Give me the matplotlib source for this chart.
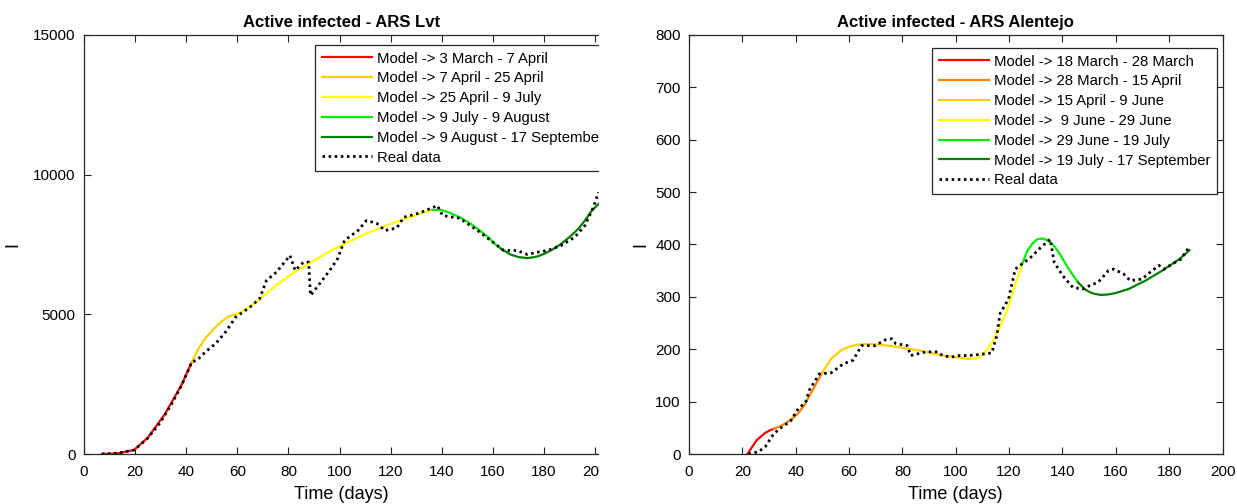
import matplotlib
matplotlib.use("Agg")
import matplotlib.pyplot as plt
from matplotlib.patches import Rectangle

plt.rcParams['font.family'] = ['Liberation Sans', 'DejaVu Sans']

# ---------------- Left panel: ARS Lvt ----------------
lvt_t_red = [7.0, 13.0, 19.6, 24.9, 31.6, 38.2, 42.2]
lvt_y_red = [0, 20, 143, 580, 1420, 2480, 3298]
lvt_t_gold = [42.2, 44.8, 48.0, 51.5, 54.0, 56.8, 60.1]
lvt_y_gold = [3298, 3774, 4200, 4548, 4760, 4929, 5024]
lvt_t_yellow = [60.1, 64.7, 70.0, 76.0, 83.3, 91.2, 97.0, 103.2, 109.0, 115.1, 120.0, 125.7, 131.0, 136.3]
lvt_y_yellow = [5024, 5262, 5643, 6100, 6571, 6988, 7300, 7583, 7840, 8060, 8240, 8417, 8590, 8738]
lvt_t_green = [136.3, 139.7, 143.0, 147.0, 151.0, 154.9, 158.5, 161.5, 163.0]
lvt_y_green = [8738, 8738, 8640, 8476, 8260, 8000, 7730, 7464, 7360]
lvt_t_dgreen = [163.0, 166.8, 170.0, 173.5, 177.0, 180.1, 183.5, 186.7, 190.0, 193.4, 196.0, 198.7, 202.0]
lvt_y_dgreen = [7360, 7143, 7050, 7012, 7060, 7167, 7330, 7524, 7770, 8060, 8360, 8714, 9012]

lvt_t_real = [7.0, 13.0, 19.6, 24.9, 29.8, 34.2, 38.2, 42.2, 44.2, 47.5, 51.5, 55.4, 59.4,
              64.7, 68.7, 71.4, 75.3, 80.6, 82.6, 85.9, 87.9, 88.6, 91.2, 96.6, 99.2, 101.9,
              107.2, 110.5, 114.5, 117.8, 122.4, 125.1, 131.0, 138.3, 140.3, 147.0, 154.9,
              164.2, 169.5, 173.5, 177.5, 181.4, 186.7, 192.0, 196.0, 199.3, 201.3]
lvt_y_real = [0, 24, 143, 560, 1120, 1780, 2460, 3298, 3357, 3655, 3952, 4369, 4905,
              5238, 5560, 6214, 6512, 7107, 6571, 6869, 6869, 5679, 5976, 6631, 6988, 7643,
              8000, 8357, 8262, 8000, 8095, 8476, 8619, 8893, 8536, 8440, 7940,
              7286, 7286, 7143, 7226, 7286, 7464, 7762, 8179, 8833, 9369]

lvt_labels = ["Model -> 3 March - 7 April", "Model -> 7 April - 25 April",
              "Model -> 25 April - 9 July", "Model -> 9 July - 9 August",
              "Model -> 9 August - 17 September"]

# ---------------- Right panel: ARS Alentejo ----------------
alt_t_red = [21.9, 25.4, 28.5, 30.5, 31.8]
alt_y_red = [0, 26.6, 40, 45.7, 48]
alt_t_orange = [31.8, 35.0, 38.1, 41.0, 43.2, 47.0, 50.1]
alt_y_orange = [48, 55, 64.7, 78, 93.2, 128, 156.6]
alt_t_gold = [50.1, 53.3, 57.1, 60.0, 63.4, 67.0, 71.0, 76.0, 82.4, 88.0, 95.1, 101.4, 104.0, 105.9]
alt_y_gold = [156.6, 182, 198, 205, 209, 210, 209, 206, 201, 196, 188, 184, 182, 182]
alt_t_yellow = [105.9, 107.5, 109.0, 111.5, 114.1, 116.5, 119.2, 122.0, 124.9]
alt_y_yellow = [182, 182, 185, 198, 217, 242, 274, 318, 363]
alt_t_green = [124.9, 126.8, 128.8, 130.6, 132.5, 134.0, 135.6, 137.5, 139.4, 141.3, 143.2, 145.8]
alt_y_green = [363, 388, 402, 410, 411.5, 409, 404, 393, 378.6, 362, 347, 328]
alt_t_dgreen = [145.8, 148.3, 150.2, 152.1, 154.6, 157.0, 159.7, 164.8, 171.1, 177.4, 183.8, 187.6]
alt_y_dgreen = [328, 315, 309, 305.6, 303.7, 304.5, 307, 315, 331, 350, 372, 389]

alt_t_real = [22.3, 26.1, 28.6, 31.8, 35.0, 38.1, 40.6, 43.8, 45.1, 48.9, 53.3, 57.8, 61.5,
              64.7, 69.8, 73.6, 76.1, 77.4, 81.8, 83.1, 88.8, 93.2, 95.1, 98.3, 101.4, 104.6,
              109.0, 113.5, 115.4, 116.6, 119.8, 122.3, 124.9, 128.0, 131.8, 135.4, 136.9,
              140.1, 143.9, 147.7, 150.2, 153.4, 157.2, 159.1, 162.9, 165.4, 169.8, 173.6,
              176.2, 178.1, 181.2, 184.4, 187.6]
alt_y_real = [0, 4.4, 14, 39, 52, 63, 84, 100, 122, 153, 155, 172, 179,
              207, 207, 218, 220, 211, 207, 188, 195, 195, 188, 185, 188, 188,
              190, 193, 226, 268, 296, 353, 363, 375, 394, 410, 366,
              340.5, 318, 315, 321.5, 328, 350, 353, 344, 331, 334, 350,
              360, 353, 363, 372, 396]

alt_labels = ["Model -> 18 March - 28 March", "Model -> 28 March - 15 April",
              "Model -> 15 April - 9 June", "Model ->  9 June - 29 June",
              "Model -> 29 June - 19 July", "Model -> 19 July - 17 September"]

C_RED = '#ff0000'
C_ORANGE = '#ff8000'
C_GOLD = '#ffd000'
C_YELLOW = '#ffff00'
C_GREEN = '#00ee00'
C_DGREEN = '#008000'

W, H = 1237, 504
fig = plt.figure(figsize=(W / 100, H / 100), dpi=100)

ax1 = fig.add_axes([84 / W, 50 / H, 515 / W, 419 / H])
ax2 = fig.add_axes([689 / W, 50 / H, 533.5 / W, 419 / H])

LW = 1.6
DOT = dict(color='black', lw=2.0, linestyle=(0, (0.9, 1.3)))

ax1.plot(lvt_t_red, lvt_y_red, color=C_RED, lw=LW, label=lvt_labels[0])
ax1.plot(lvt_t_gold, lvt_y_gold, color=C_GOLD, lw=LW, label=lvt_labels[1])
ax1.plot(lvt_t_yellow, lvt_y_yellow, color=C_YELLOW, lw=LW, label=lvt_labels[2])
ax1.plot(lvt_t_green, lvt_y_green, color=C_GREEN, lw=LW, label=lvt_labels[3])
ax1.plot(lvt_t_dgreen, lvt_y_dgreen, color=C_DGREEN, lw=LW, label=lvt_labels[4])
ax1.plot(lvt_t_real, lvt_y_real, label="Real data", **DOT)

ax2.plot(alt_t_red, alt_y_red, color=C_RED, lw=LW, label=alt_labels[0])
ax2.plot(alt_t_orange, alt_y_orange, color=C_ORANGE, lw=LW, label=alt_labels[1])
ax2.plot(alt_t_gold, alt_y_gold, color=C_GOLD, lw=LW, label=alt_labels[2])
ax2.plot(alt_t_yellow, alt_y_yellow, color=C_YELLOW, lw=LW, label=alt_labels[3])
ax2.plot(alt_t_green, alt_y_green, color=C_GREEN, lw=LW, label=alt_labels[4])
ax2.plot(alt_t_dgreen, alt_y_dgreen, color=C_DGREEN, lw=LW, label=alt_labels[5])
ax2.plot(alt_t_real, alt_y_real, label="Real data", **DOT)

ax1.set_xlim(0, 201.5)
ax1.set_ylim(0, 15000)
ax1.set_xticks(range(0, 201, 20))
ax1.set_yticks([0, 5000, 10000, 15000])
ax2.set_xlim(0, 200)
ax2.set_ylim(0, 800)
ax2.set_xticks(range(0, 201, 20))
ax2.set_yticks(range(0, 801, 100))

for ax, title in [(ax1, "Active infected - ARS Lvt"), (ax2, "Active infected - ARS Alentejo")]:
    ax.set_title(title, fontsize=12, fontweight='bold', pad=6)
    ax.set_xlabel("Time (days)", fontsize=13, labelpad=5)
    ax.set_ylabel("I", fontsize=13)
    ax.tick_params(direction='in', length=5, width=0.8, labelsize=11, colors='#222222',
                   top=True, right=True, labelcolor='black')
    ax.tick_params(axis='x', pad=8)
    ax.tick_params(axis='y', pad=6)
    for s in ax.spines.values():
        s.set_color('#262626')
        s.set_linewidth(0.9)

ax1.yaxis.set_label_coords((21 - 84) / 515, 0.5)
ax2.yaxis.set_label_coords((649 - 689) / 533.5, 0.5)

ax1.spines['right'].set_visible(False)
ax1.tick_params(right=False)

leg_kw = dict(loc='upper left', fontsize=10.7, frameon=True, fancybox=False,
              framealpha=1, edgecolor='#262626', handlelength=3.4,
              handletextpad=0.34, labelspacing=0.39, borderpad=0.45, borderaxespad=0)
l1 = ax1.legend(bbox_to_anchor=((315 - 84) / 515, (454 - 45) / 419), **leg_kw)
l2 = ax2.legend(bbox_to_anchor=((932 - 689) / 533.5, (454 - 48) / 419), **leg_kw)
for l in (l1, l2):
    l.get_frame().set_linewidth(0.9)

# clip the left panel at its right border, as in the reference
fig.patches.append(Rectangle((599 / W, 0), 26 / W, 1, transform=fig.transFigure,
                             facecolor='white', edgecolor='none', zorder=5))

fig.savefig("out.png", dpi=100)
